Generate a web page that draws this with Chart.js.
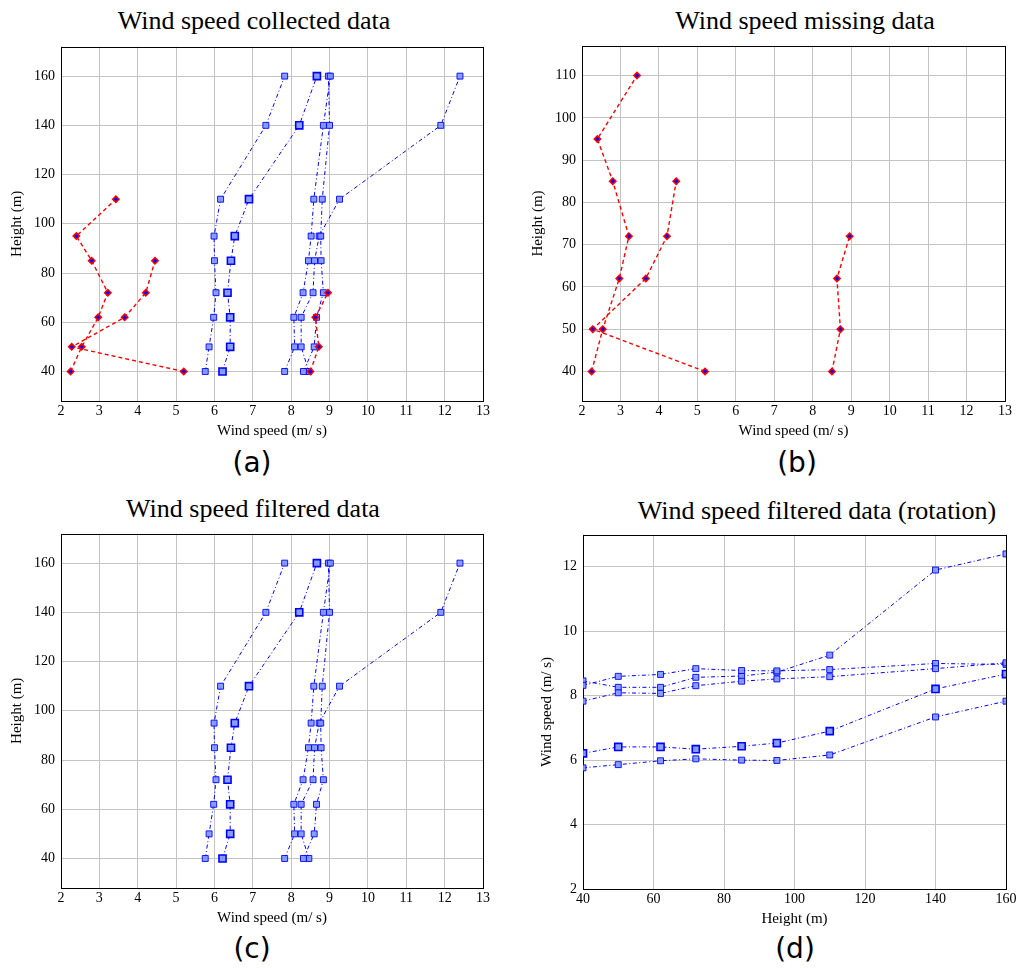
<!DOCTYPE html>
<html>
<head>
<meta charset="utf-8">
<script src="https://cdn.jsdelivr.net/npm/chart.js@4.4.1/dist/chart.umd.min.js"></script>
<style>
  body { margin: 0; background: #fff; width: 1016px; height: 968px; position: relative; overflow: hidden; }
  .panel { position: absolute; width: 500px; height: 400px; }
  .title { position: absolute; transform: translate(-50%, -50%); font: 26px "Liberation Serif", serif; line-height: 1; white-space: nowrap; color: #000; }
  .caption { position: absolute; transform: translate(-50%, -50%); font: 28px "DejaVu Sans", sans-serif; line-height: 1; color: #000; }
</style>
</head>
<body>
<div class="title" style="left:254px;top:21px">Wind speed collected data</div>
<div class="title" style="left:805px;top:21px">Wind speed missing data</div>
<div class="title" style="left:253px;top:509px">Wind speed filtered data</div>
<div class="title" style="left:817px;top:511px">Wind speed filtered data (rotation)</div>

<div class="panel" style="left:0;top:40px"><canvas id="chartA" width="500" height="400"></canvas></div>
<div class="panel" style="left:516px;top:40px"><canvas id="chartB" width="500" height="400"></canvas></div>
<div class="panel" style="left:0;top:527px"><canvas id="chartC" width="500" height="400"></canvas></div>
<div class="panel" style="left:516px;top:528px"><canvas id="chartD" width="500" height="400"></canvas></div>

<div class="caption" style="left:252px;top:463px">(a)</div>
<div class="caption" style="left:797px;top:463px">(b)</div>
<div class="caption" style="left:252px;top:949px">(c)</div>
<div class="caption" style="left:795px;top:949px">(d)</div>

<script>
// measurement heights (m)
const heights = [40, 50, 62, 72, 85, 95, 110, 140, 160];

// filtered wind speed profiles (m/s), one value per height
const filtered1 = [5.76, 5.86, 5.98, 6.04, 6.0, 5.99, 6.16, 7.34, 7.83];
const filtered2 = [6.21, 6.41, 6.41, 6.34, 6.43, 6.53, 6.9, 8.21, 8.67];
const filtered3 = [7.83, 8.09, 8.07, 8.31, 8.45, 8.52, 8.59, 8.84, 9.02];
const filtered4 = [8.32, 8.6, 8.66, 8.84, 8.78, 8.77, 8.81, 9.0, 8.97];
const filtered5 = [8.46, 8.26, 8.26, 8.57, 8.61, 8.73, 9.26, 11.9, 12.4];

// missing data profiles
const missingHeights1 = [40, 50, 62, 72, 85, 95, 110];
const missing1 = [2.25, 2.54, 2.97, 3.22, 2.8, 2.4, 3.43];
const missingHeights2 = [40, 50, 62, 72, 85];
const missing2 = [5.2, 2.28, 3.66, 4.21, 4.45];
const missingHeights3 = [40, 50, 62, 72];
const missing3 = [8.5, 8.72, 8.63, 8.96];

// tick values
const speedTicks = [2, 3, 4, 5, 6, 7, 8, 9, 10, 11, 12, 13];
const heightTicks = [40, 60, 80, 100, 120, 140, 160];
const missingHeightTicks = [40, 50, 60, 70, 80, 90, 100, 110];
const speedTicksRot = [2, 4, 6, 8, 10, 12];

const BLUE = "#0000ff";
const FILL = "rgba(125, 150, 255, 0.9)";
const GRID = "#c4c4c4";

const framePlugin = {
  id: "frame",
  beforeDatasetsDraw(chart) {
    const { ctx, chartArea: a } = chart;
    ctx.save();
    ctx.strokeStyle = "#000";
    ctx.lineWidth = 1;
    ctx.strokeRect(Math.round(a.left) + 0.5, Math.round(a.top) + 0.5,
      Math.round(a.right - a.left), Math.round(a.bottom - a.top));
    ctx.restore();
  },
};

function toPoints(xs, ys) {
  return xs.map((x, i) => ({ x: x, y: ys[i] }));
}

function blueSet(points, big) {
  return {
    data: points,
    showLine: true,
    borderColor: BLUE,
    borderWidth: 1,
    borderDash: [4, 2.5, 1, 2.5],
    pointStyle: "rect",
    pointRadius: big ? 5 : 4.2,
    pointBorderWidth: big ? 1.6 : 0.9,
    pointBorderColor: BLUE,
    pointBackgroundColor: FILL,
  };
}

function redSet(points) {
  return {
    data: points,
    showLine: true,
    borderColor: "#ff0000",
    borderWidth: 1.4,
    borderDash: [4, 3],
    pointStyle: "rectRot",
    pointRadius: 3.2,
    pointBorderWidth: 1.5,
    pointBorderColor: "#ff0000",
    pointBackgroundColor: BLUE,
  };
}

function axis(opts) {
  return {
    type: "linear",
    min: opts.min,
    max: opts.max,
    afterBuildTicks: (scale) => {
      scale.ticks = opts.ticks.map((v) => ({ value: v }));
    },
    afterFit: (scale) => {
      if (opts.horizontal) {
        scale.height = 39;
        scale.paddingLeft = 0;
        scale.paddingRight = 0;
      } else {
        scale.width = opts.width;
        scale.paddingTop = 0;
        scale.paddingBottom = 0;
      }
    },
    grid: { color: GRID, lineWidth: 1, drawTicks: false },
    border: { display: false },
    ticks: {
      color: "#000",
      padding: opts.horizontal ? 2 : 6,
      font: { family: "Liberation Serif", size: 14 },
      maxRotation: 0,
      autoSkip: false,
    },
    title: {
      display: true,
      text: opts.title,
      color: "#000",
      font: { family: "Liberation Serif", size: 15 },
      padding: opts.horizontal ? { top: 0, bottom: 0 } : { top: opts.titlePad, bottom: 0 },
    },
  };
}

function makeChart(id, datasets, xAxis, yAxis, padRight) {
  return new Chart(document.getElementById(id).getContext("2d"), {
    type: "scatter",
    data: { datasets: datasets },
    options: {
      responsive: false,
      animation: false,
      devicePixelRatio: 1,
      layout: { padding: { top: 6, right: padRight, bottom: 0, left: 0 } },
      plugins: { legend: { display: false }, tooltip: { enabled: false } },
      scales: { x: xAxis, y: yAxis },
    },
    plugins: [framePlugin],
  });
}

const filtered = [filtered1, filtered2, filtered3, filtered4, filtered5];
const missing = [
  [missing1, missingHeights1],
  [missing2, missingHeights2],
  [missing3, missingHeights3],
];

// (a) collected = missing + filtered
const setsA = missing.map((m) => redSet(toPoints(m[0], m[1])))
  .concat(filtered.map((f, i) => blueSet(toPoints(f, heights), i === 1)));
makeChart("chartA", setsA,
  axis({ horizontal: true, min: 2, max: 13, ticks: speedTicks, title: "Wind speed (m/ s)" }),
  axis({ min: 28, max: 172, ticks: heightTicks, title: "Height (m)", width: 61, titlePad: 8 }),
  17);

// (b) missing data
const setsB = missing.map((m) => redSet(toPoints(m[0], m[1])));
makeChart("chartB", setsB,
  axis({ horizontal: true, min: 2, max: 13, ticks: speedTicks, title: "Wind speed (m/ s)" }),
  axis({ min: 33, max: 117, ticks: missingHeightTicks, title: "Height (m)", width: 66, titlePad: 13 }),
  11);

// (c) filtered data
const setsC = filtered.map((f, i) => blueSet(toPoints(f, heights), i === 1));
makeChart("chartC", setsC,
  axis({ horizontal: true, min: 2, max: 13, ticks: speedTicks, title: "Wind speed (m/ s)" }),
  axis({ min: 28, max: 172, ticks: heightTicks, title: "Height (m)", width: 61, titlePad: 8 }),
  17);

// (d) filtered data, axes swapped
const setsD = filtered.map((f, i) => blueSet(toPoints(heights, f), i === 1));
makeChart("chartD", setsD,
  axis({ horizontal: true, min: 40, max: 160, ticks: heightTicks, title: "Height (m)" }),
  axis({ min: 2, max: 13, ticks: speedTicksRot, title: "Wind speed (m/ s)", width: 67, titlePad: 22 }),
  10);
</script>
</body>
</html>
